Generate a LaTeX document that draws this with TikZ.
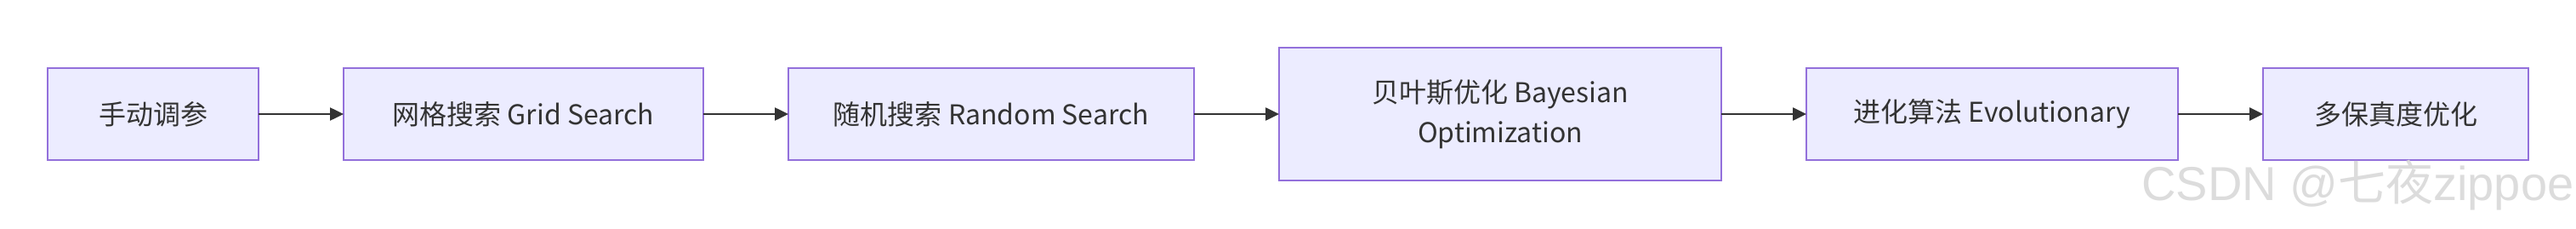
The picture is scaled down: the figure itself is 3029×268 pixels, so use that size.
\documentclass[tikz,border=0pt]{standalone}
\usepackage{fontspec}
\setmainfont{Noto Sans CJK SC}
\newfontfamily\markfont{Liberation Sans}
\newfontfamily\markcjk{Noto Sans CJK SC}
\usetikzlibrary{positioning,arrows.meta}
\definecolor{boxfill}{HTML}{ECECFF}
\definecolor{boxline}{HTML}{9370DB}
\definecolor{ink}{HTML}{333333}
\definecolor{markgray}{HTML}{DCDCDC}

\begin{document}
\begin{tikzpicture}[
    x=1pt, y=1pt,
    node distance=100pt,
    stage node/.style={rectangle, draw=boxline, line width=2pt, fill=boxfill, text=ink, align=center, inner sep=0pt, outer sep=0pt, minimum height=108pt, font=\fontsize{32}{47}\selectfont},
    flow edge/.style={draw=ink, line width=2.5pt, -{Triangle[length=16pt, width=15pt]}}
  ]
  \useasboundingbox (0,0) rectangle (3029,268);

  % stages, left to right
  \node[stage node, minimum width=248pt] (manual) at (180,134) {手动调参};
  \node[stage node, minimum width=423pt, right=of manual] (grid) {网格搜索 Grid Search};
  \node[stage node, minimum width=477pt, right=of grid] (random) {随机搜索 Random Search};
  \node[stage node, minimum width=520pt, minimum height=155pt, right=of random] (bayes) {贝叶斯优化 Bayesian\\Optimization};
  \node[stage node, minimum width=437pt, right=of bayes] (evo) {进化算法 Evolutionary};
  \node[stage node, minimum width=312pt, right=of evo] (multi) {多保真度优化};

  \draw[flow edge] (manual) -- (grid);
  \draw[flow edge] (grid) -- (random);
  \draw[flow edge] (random) -- (bayes);
  \draw[flow edge] (bayes) -- (evo);
  \draw[flow edge] (evo) -- (multi);

  % watermark
  \node[anchor=base west, inner sep=0pt, text=markgray, font=\markfont\fontsize{56}{56}\selectfont] (mark) at (2518,33) {CSDN @{\markcjk 七夜}zippoe};
\end{tikzpicture}
\end{document}
